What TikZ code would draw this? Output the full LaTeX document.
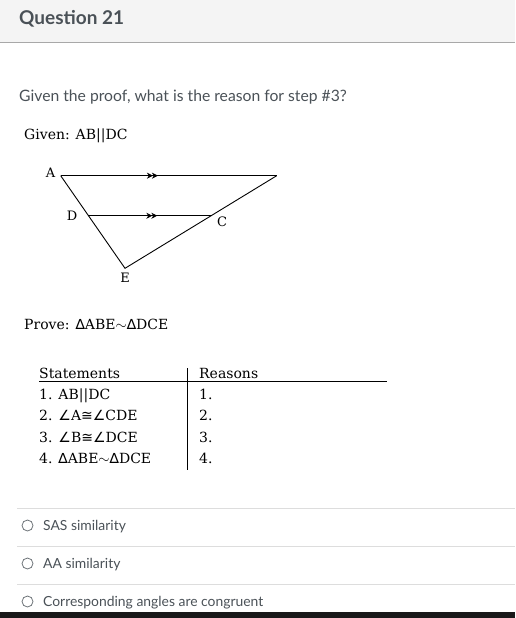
\documentclass[tikz,border=0pt]{standalone}
\usepackage{fontspec}
\setmainfont{DejaVu Serif}
\newfontfamily\uifont{Lato}
\newfontfamily\symf{DejaVu Sans}
\usetikzlibrary{arrows.meta,decorations.markings}

\definecolor{headbg}{HTML}{F4F4F4}
\definecolor{headline}{HTML}{A8A8A8}
\definecolor{uitext}{HTML}{4A5157}
\definecolor{sepline}{HTML}{DDDDDD}

\newcommand{\angsym}{{\symf\char"2220}}
\newcommand{\congsym}{{\symf\char"2245}}
\newcommand{\trisym}{{\symf\char"2206}}

\tikzset{
  ui/.style={anchor=base west,inner sep=0pt,text=uitext,font=\uifont\fontsize{15.7}{18}\selectfont},
  opt/.style={ui,font=\uifont\fontsize{13.9}{16}\selectfont},
  proof/.style={anchor=base west,inner sep=0pt,font=\fontsize{14}{17}\selectfont},
  vlabel/.style={inner sep=0pt,font=\fontsize{13}{15}\selectfont},
  parmark/.style={postaction={decorate,decoration={markings,
    mark=at position #1 with {\arrow{Stealth[length=6pt,width=6pt]}\arrow[xshift=-5pt]{Stealth[length=6pt,width=6pt]}}}}},
  radio/.style={circle,draw=uitext!80,line width=0.8pt,minimum size=11pt,inner sep=0pt}
}

\begin{document}
\begin{tikzpicture}[x=1pt,y=-1pt]
  \useasboundingbox (0,0) rectangle (515,618);
  % header
  \fill[headbg] (0,0) rectangle (515,42);
  \draw[headline,line width=1pt] (0,42.3) -- (515,42.3);
  \node[ui,font=\uifont\bfseries\fontsize{19}{22}\selectfont] (title) at (19,24.5) {Question 21};
  \node[ui] (question) at (19,101) {Given the proof, what is the reason for step \#3?};
  \node[proof] (given) at (24,139) {Given: AB||DC};

  % figure
  \coordinate (A) at (60.7,175.7);
  \coordinate (B) at (276.7,175.7);
  \coordinate (D) at (88.4,215.7);
  \coordinate (C) at (211.5,215.7);
  \coordinate (E) at (125,268.3);
  \draw[line width=0.9pt,parmark=0.45] (A) -- (B);
  \draw[line width=0.9pt] (B) -- (E) -- (A);
  \draw[line width=0.9pt,parmark=0.56] (D) -- (C);
  \node[vlabel] (labA) at (50.5,172.5) {A};
  \node[vlabel] (labD) at (72,216) {D};
  \node[vlabel] (labC) at (222,222) {C};
  \node[vlabel] (labE) at (125,278) {E};

  \node[proof] (prove) at (24,329) {Prove: \trisym ABE$\sim$\trisym DCE};

  % table
  \node[proof] (sthead) at (39,378) {Statements};
  \node[proof] (rshead) at (199,378) {Reasons};
  \draw[line width=0.9pt] (39,381) -- (386.7,381);
  \draw[line width=0.9pt] (187.3,368) -- (187.3,470);
  \node[proof] (st1) at (39,399) {1. AB||DC};
  \node[proof] (st2) at (39,420) {2. \angsym A\congsym\angsym CDE};
  \node[proof] (st3) at (39,442) {3. \angsym B\congsym\angsym DCE};
  \node[proof] (st4) at (39,463) {4. \trisym ABE$\sim$\trisym DCE};
  \foreach \n/\y in {1/399,2/420,3/442,4/463}
    \node[proof] (rs\n) at (199,\y) {\n.};

  % answers
  \foreach \y in {508.3,546,584.3}
    \draw[sepline,line width=1pt] (17,\y) -- (515,\y);
  \node[radio] (r1) at (27.5,525.5) {};
  \node[radio] (r2) at (27.5,563.5) {};
  \node[radio] (r3) at (27.5,601.5) {};
  \node[opt] (opt1) at (43,530) {SAS similarity};
  \node[opt] (opt2) at (43,568) {AA similarity};
  \node[opt] (opt3) at (43,606) {Corresponding angles are congruent};
  \fill[black!90] (0,612) rectangle (515,618);
\end{tikzpicture}
\end{document}
